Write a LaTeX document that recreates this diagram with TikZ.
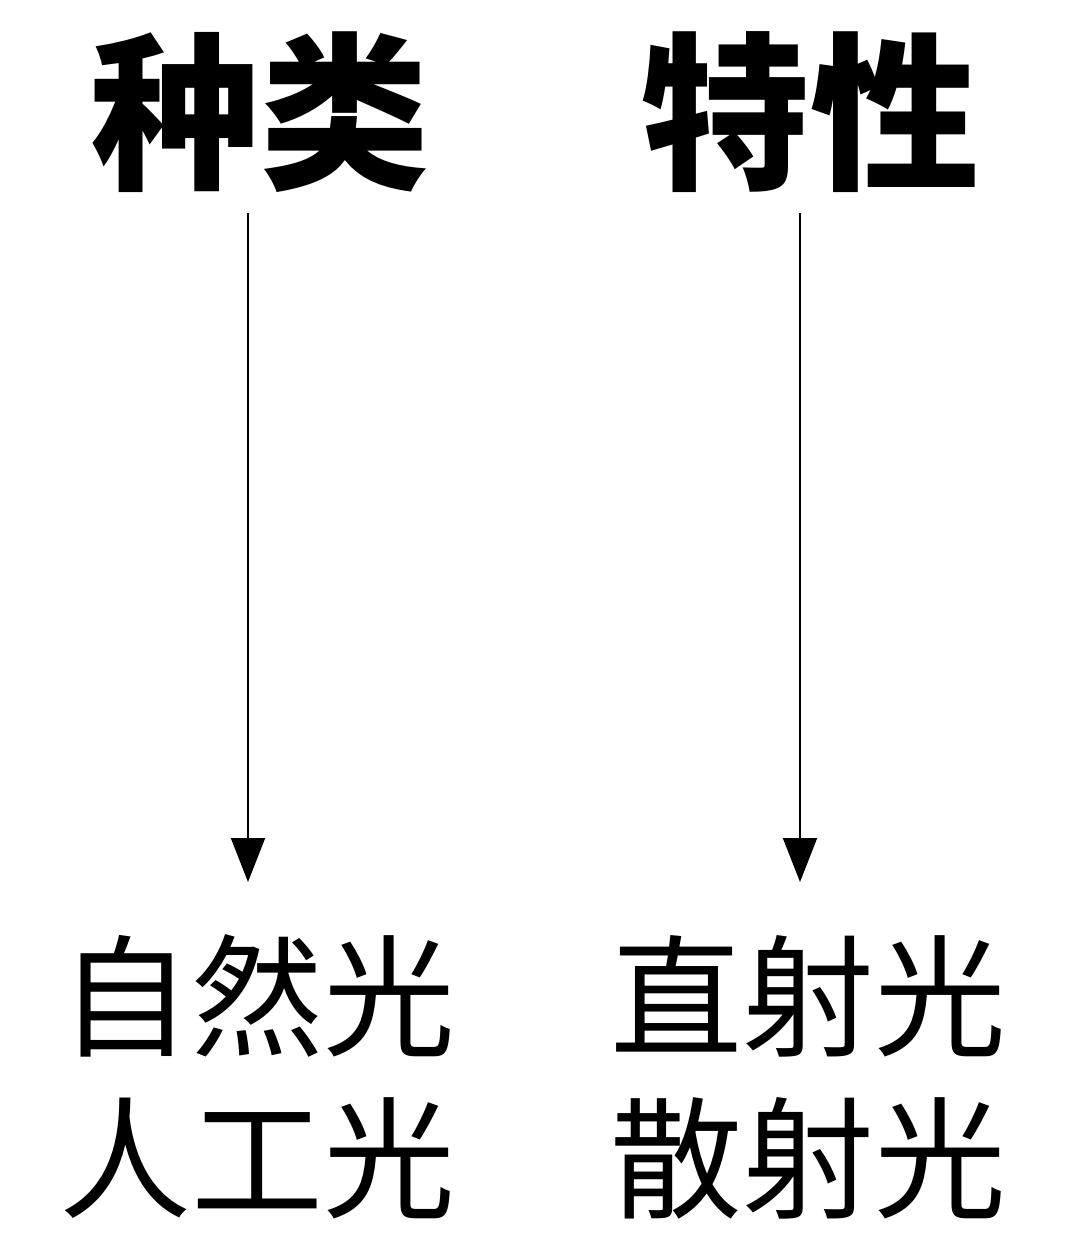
\documentclass[tikz,border=0pt]{standalone}
\usepackage{fontspec}
\setmainfont{Noto Sans CJK SC}
\usetikzlibrary{arrows.meta}
\begin{document}
\begin{tikzpicture}[x=0.75pt,y=-0.75pt,
  head/.style={font=\fontsize{127}{127}\selectfont\bfseries, inner sep=0pt, anchor=center},
  item/.style={font=\fontsize{99}{99}\selectfont, inner sep=0pt, anchor=center},
  conn/.style={line width=1.5pt, -{Triangle[width=25.5pt,length=33pt]}}]
\useasboundingbox (0,0) rectangle (1080,1248);
\node[head] (h1) at (260,112) {种类};
\node[head] (h2) at (810,112) {特性};
\coordinate (s1) at (248,213);
\coordinate (e1) at (248,882);
\coordinate (s2) at (800,213);
\coordinate (e2) at (800,882);
\draw[conn] (s1) -- (e1);
\draw[conn] (s2) -- (e2);
\node[item] (b1) at (257,996) {自然光};
\node[item] (b2) at (257,1158) {人工光};
\node[item] (b3) at (808,996) {直射光};
\node[item] (b4) at (808,1158) {散射光};
\end{tikzpicture}
\end{document}
